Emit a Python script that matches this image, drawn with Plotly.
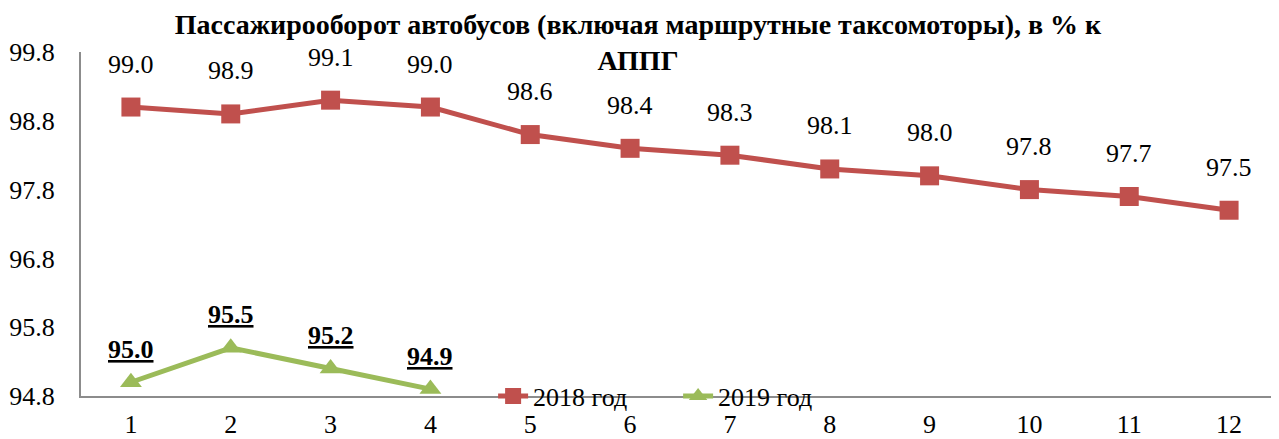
import plotly.graph_objects as go

months = [1, 2, 3, 4, 5, 6, 7, 8, 9, 10, 11, 12]
values_2018 = [99.0, 98.9, 99.1, 99.0, 98.6, 98.4, 98.3, 98.1, 98.0, 97.8, 97.7, 97.5]
months_2019 = [1, 2, 3, 4]
values_2019 = [95.0, 95.5, 95.2, 94.9]
y_ticks = [94.8, 95.8, 96.8, 97.8, 98.8, 99.8]

RED = "#C0504D"
GREEN = "#9BBB59"
FONT = "Liberation Serif"

W, H = 1271, 431  # page has 8px body margin

fig = go.Figure()
fig.add_trace(go.Scatter(
    x=months, y=values_2018, mode="lines+markers", name="2018 год",
    line=dict(color=RED, width=5),
    marker=dict(symbol="square", size=19, color=RED),
    cliponaxis=False,
))
fig.add_trace(go.Scatter(
    x=months_2019, y=values_2019, mode="lines+markers", name="2019 год",
    line=dict(color=GREEN, width=5),
    marker=dict(symbol="triangle-up", size=19, color=GREEN),
    cliponaxis=False,
))

for m, v in zip(months, values_2018):
    fig.add_annotation(x=m, y=v, text=f"{v:.1f}", showarrow=False,
                       yshift=43, font=dict(family=FONT, size=26, color="black"))
for m, v in zip(months_2019, values_2019):
    fig.add_annotation(x=m, y=v, text=f"<b><u>{v:.1f}</u></b>", showarrow=False,
                       yshift=33, font=dict(family=FONT, size=26, color="black"))

fig.update_layout(
    width=W, height=H,
    margin=dict(l=73, r=0, t=44, b=43, autoexpand=False),
    paper_bgcolor="white", plot_bgcolor="white",
    font=dict(family=FONT, size=26, color="black"),
    title=dict(text="<b>Пассажирооборот автобусов (включая маршрутные таксомоторы), в % к<br>АППГ</b>",
               x=630 / W, xanchor="center", xref="container",
               y=1 - 26 / H, yanchor="middle", yref="container",
               font=dict(family=FONT, size=28, color="black")),
    showlegend=True,
    legend=dict(orientation="h", x=0.344, xanchor="left", y=0.0, yanchor="middle",
                bgcolor="rgba(0,0,0,0)", font=dict(family=FONT, size=26),
                entrywidth=140, entrywidthmode="pixels", tracegroupgap=0),
)
fig.update_xaxes(
    showgrid=False, showline=True, linecolor="#8c8c8c", linewidth=2, zeroline=False,
    tickmode="array", tickvals=months, ticktext=[str(m) for m in months],
    ticks="outside", ticklen=4, tickcolor="rgba(0,0,0,0)",
    tickfont=dict(family=FONT, size=26), range=[0.5, 12.5], automargin=False,
)
fig.update_yaxes(
    range=[94.8, 99.8], tickvals=y_ticks, ticktext=[f"{t:.1f}" for t in y_ticks],
    showgrid=False, zeroline=False, showline=True, linecolor="#8c8c8c", linewidth=2,
    ticks="outside", ticklen=19, tickcolor="rgba(0,0,0,0)",
    tickfont=dict(family=FONT, size=26), automargin=False,
)

fig.write_html("out.html")
